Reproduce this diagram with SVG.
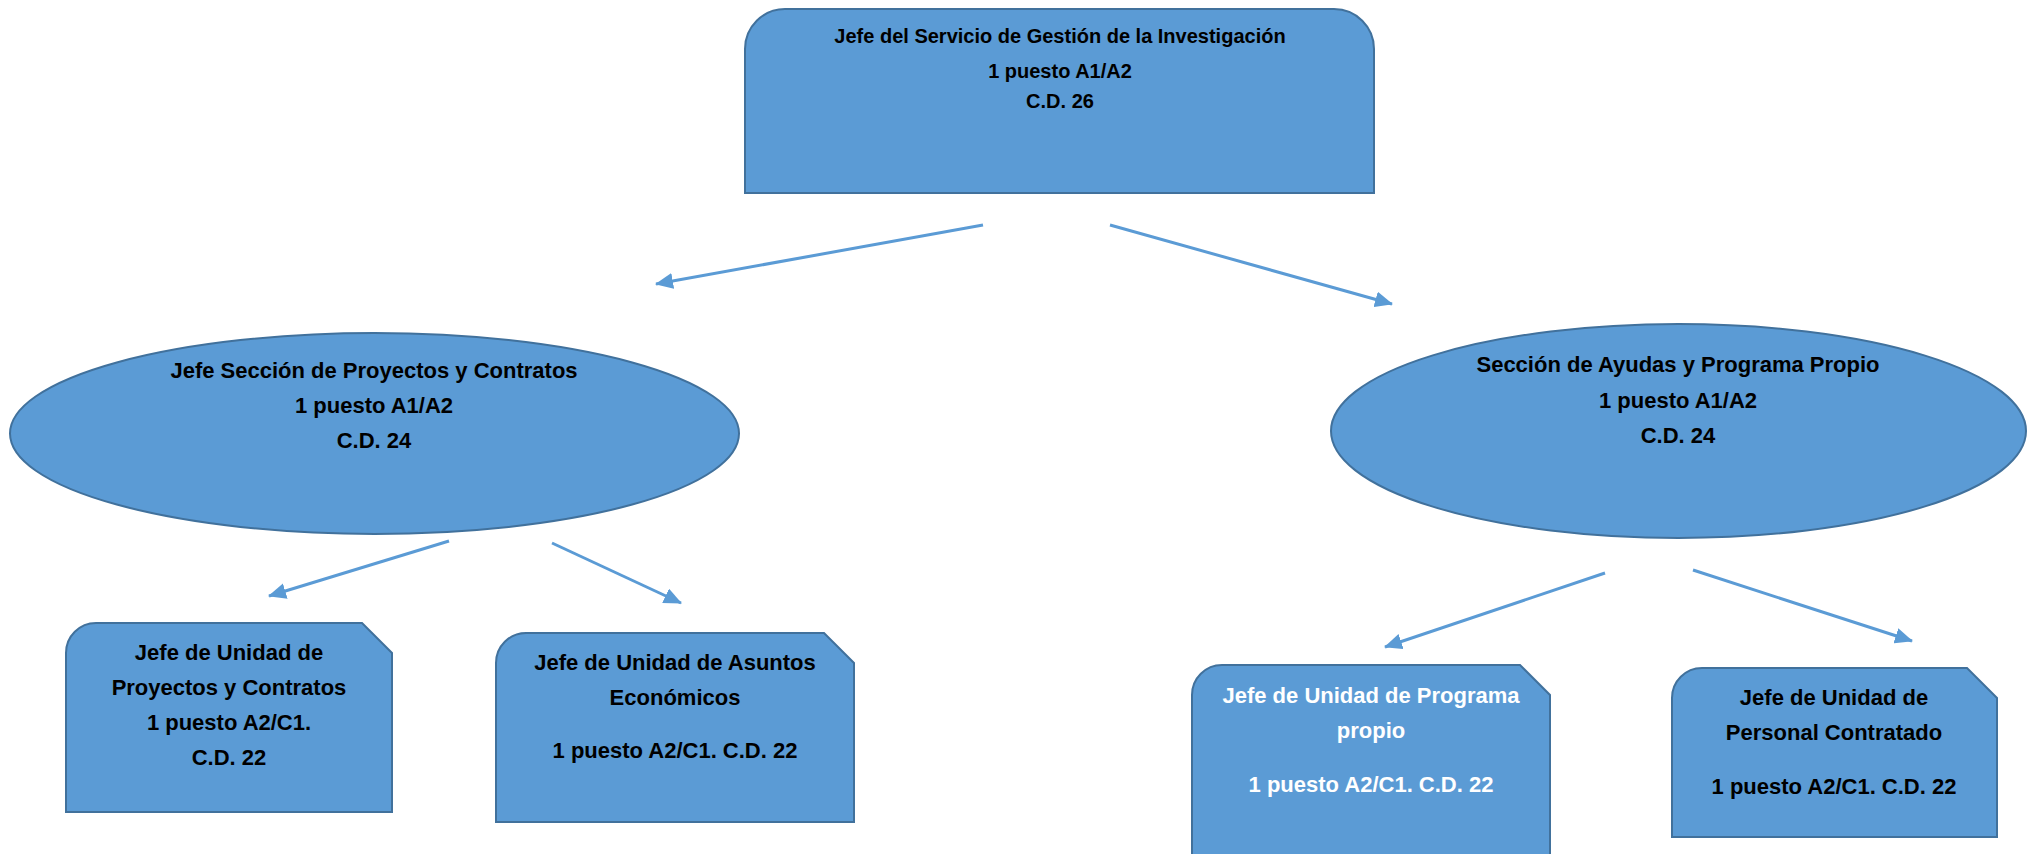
<svg xmlns="http://www.w3.org/2000/svg" width="2033" height="854" viewBox="0 0 2033 854">
<defs>
<style>
.node{fill:#5B9BD5;stroke:#41719C;stroke-width:2}
.t{font-family:"Liberation Sans",Arial,sans-serif;font-weight:bold;font-size:22px;fill:#000;text-anchor:middle}
.t20{font-size:20px}
.w{fill:#fff}
.conn{stroke:#5B9BD5;stroke-width:3;fill:none;marker-end:url(#arr)}
</style>
<marker id="arr" markerUnits="userSpaceOnUse" markerWidth="18" markerHeight="16" refX="17" refY="8" orient="auto">
<path d="M0,0 L18,8 L0,16 Z" fill="#5B9BD5"/>
</marker>
</defs>
<rect width="2033" height="854" fill="#fff"/>
<g id="connectors">
<line class="conn" x1="983" y1="225" x2="656" y2="284"/>
<line class="conn" x1="1110" y1="225" x2="1392" y2="304"/>
<line class="conn" x1="449" y1="541" x2="269" y2="596"/>
<line class="conn" x1="552" y1="543" x2="681" y2="603"/>
<line class="conn" x1="1605" y1="573" x2="1385" y2="647"/>
<line class="conn" x1="1693" y1="570" x2="1912" y2="641"/>
</g>
<g id="jefe-servicio">
<path class="node" d="M745,193 L745,49 A40,40 0 0 1 785,9 L1334,9 A40,40 0 0 1 1374,49 L1374,193 Z"/>
<text class="t t20" x="1060" y="43">Jefe del Servicio de Gestión de la Investigación</text>
<text class="t t20" x="1060" y="78">1 puesto A1/A2</text>
<text class="t t20" x="1060" y="108">C.D. 26</text>
</g>
<g id="seccion-proyectos">
<ellipse class="node" cx="374.5" cy="433.5" rx="364.5" ry="100.5"/>
<text class="t" x="374" y="378">Jefe Sección de Proyectos y Contratos</text>
<text class="t" x="374" y="413">1 puesto A1/A2</text>
<text class="t" x="374" y="448">C.D. 24</text>
</g>
<g id="seccion-ayudas">
<ellipse class="node" cx="1678.5" cy="431" rx="347.5" ry="107"/>
<text class="t" x="1678" y="372">Sección de Ayudas y Programa Propio</text>
<text class="t" x="1678" y="408">1 puesto A1/A2</text>
<text class="t" x="1678" y="443">C.D. 24</text>
</g>
<g id="unidad-proyectos">
<path class="node" d="M66,812 L66,653 A30,30 0 0 1 96,623 L362,623 L392,653 L392,812 Z"/>
<text class="t" x="229" y="660">Jefe de Unidad de</text>
<text class="t" x="229" y="695">Proyectos y Contratos</text>
<text class="t" x="229" y="730">1 puesto A2/C1.</text>
<text class="t" x="229" y="765">C.D. 22</text>
</g>
<g id="unidad-asuntos">
<path class="node" d="M496,822 L496,663 A30,30 0 0 1 526,633 L824,633 L854,663 L854,822 Z"/>
<text class="t" x="675" y="670">Jefe de Unidad de Asuntos</text>
<text class="t" x="675" y="705">Económicos</text>
<text class="t" x="675" y="758">1 puesto A2/C1. C.D. 22</text>
</g>
<g id="unidad-programa">
<path class="node" d="M1192,862 L1192,695 A30,30 0 0 1 1222,665 L1520,665 L1550,695 L1550,862 Z"/>
<text class="t w" x="1371" y="703">Jefe de Unidad de Programa</text>
<text class="t w" x="1371" y="738">propio</text>
<text class="t w" x="1371" y="792">1 puesto A2/C1. C.D. 22</text>
</g>
<g id="unidad-personal">
<path class="node" d="M1672,837 L1672,698 A30,30 0 0 1 1702,668 L1967,668 L1997,698 L1997,837 Z"/>
<text class="t" x="1834" y="705">Jefe de Unidad de</text>
<text class="t" x="1834" y="740">Personal Contratado</text>
<text class="t" x="1834" y="794">1 puesto A2/C1. C.D. 22</text>
</g>
</svg>
